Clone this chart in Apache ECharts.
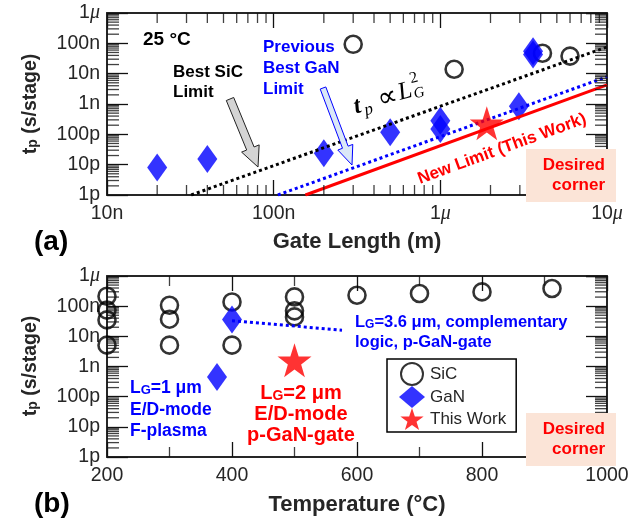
<!DOCTYPE html>
<html><head><meta charset="utf-8">
<script src="https://cdn.jsdelivr.net/npm/echarts@6/dist/echarts.min.js"></script>
<style>html,body{margin:0;padding:0;background:#fff}#c{width:637px;height:520px}</style>
</head><body><div id="c"></div>
<script>
// ---------- data (a): gate length (m) vs tp (s/stage) ----------
const xTickLabelsA = ['10n', '100n', '1{m|μ}', '10{m|μ}'];
const yTickLabels = ['1p', '10p', '100p', '1n', '10n', '100n', '1{m|μ}'];
const sicA = [[3.0e-7, 93e-9], [1.21e-6, 14e-9], [4.1e-6, 47e-9], [6.0e-6, 38e-9]];
const ganA = [[2.0e-8, 8e-12], [4.0e-8, 15.5e-12], [2.0e-7, 24e-12], [5.0e-7, 117e-12],
              [1.0e-6, 280e-12], [1.0e-6, 150e-12], [2.96e-6, 840e-12], [3.6e-6, 55e-9], [3.6e-6, 43e-9]];
const starA = [[1.9e-6, 230e-12]];
const sicLimitA = [[3.2e-8, 1e-12], [1e-5, 76e-9]];
const ganLimitA = [[1.06e-7, 1e-12], [1e-5, 7.9e-9]];
const newLimitA = [[1.55e-7, 1e-12], [1e-5, 4.3e-9]];
// ---------- data (b): temperature (°C) vs tp ----------
const xMinorB = [300, 500, 700, 900];
const sicB = [[200, 214e-9], [200, 74e-9], [200, 35e-9], [200, 5.1e-9],
              [300, 107e-9], [300, 37e-9], [300, 5.1e-9],
              [400, 138e-9], [400, 5.1e-9],
              [500, 203e-9], [500, 70e-9], [500, 44e-9],
              [600, 230e-9], [700, 263e-9], [800, 297e-9], [912, 385e-9]];
const ganB = [[376, 450e-12], [400, 36e-9]];
const starB = [[500, 1.6e-9]];
const ganTrendB = [[400, 33e-9], [576, 16e-9]];
const legendNames = ['SiC', 'GaN', 'This Work'];

const minorMult = [2, 3, 4, 5, 6, 7, 8, 9];
function minorList(e0, e1) {
  const out = [];
  for (let e = e0; e < e1; e++) for (const k of minorMult) out.push(k * Math.pow(10, e));
  return out;
}

const AX = '#262626';
const TK = '#111111';
const FONT = 'Liberation Sans, Arial, sans-serif';
const STAR = 'path://M50,0 L61.8,35.1 L98.1,35.1 L68.8,56.7 L79.4,91 L50,70 L20.6,91 L31.2,56.7 L1.9,35.1 L38.2,35.1 Z';
const BLUE = '#0000ff', RED = '#ff0000';

const labelRich = { m: { fontFamily: 'Liberation Serif, serif', fontStyle: 'italic', fontSize: 20, color: AX } };
function logLabel(arr, e0) {
  return v => arr[Math.round(Math.log10(v)) - e0];
}
function logAxisX(gi, pos, show) {
  return {
    type: 'log', logBase: 10, gridIndex: gi, position: pos, min: 1e-8, max: 1e-5, splitNumber: 3,
    axisLine: { show: true, lineStyle: { color: AX, width: 2 } },
    axisTick: { show: true, inside: true, length: 15, lineStyle: { color: TK, width: 1.3 } },
    axisLabel: { show: show, margin: 9, fontSize: 19.5, color: AX, fontFamily: FONT,
      formatter: logLabel(xTickLabelsA, -8), rich: labelRich },
    splitLine: { show: false }
  };
}
function logAxisY(gi, pos, show) {
  return {
    type: 'log', logBase: 10, gridIndex: gi, position: pos, min: 1e-12, max: 1e-6, splitNumber: 6,
    axisLine: { show: true, lineStyle: { color: AX, width: 2 } },
    axisTick: { show: true, inside: true, length: 21, lineStyle: { color: TK, width: 1.3 } },
    axisLabel: { show: show, margin: 7, fontSize: 19.5, color: AX, fontFamily: FONT,
      formatter: logLabel(yTickLabels, -12), rich: labelRich },
    splitLine: { show: false }
  };
}
function linAxisX(gi, pos, show) {
  return {
    type: 'value', gridIndex: gi, position: pos, min: 200, max: 1000, interval: 200,
    axisLine: { show: true, lineStyle: { color: AX, width: 2 } },
    axisTick: { show: true, inside: true, length: 15, lineStyle: { color: TK, width: 1.3 } },
    axisLabel: { show: show, margin: 9, fontSize: 19.5, color: AX, fontFamily: FONT, formatter: v => String(v) },
    splitLine: { show: false }
  };
}

// minor ticks: thin rect symbols placed through the axis scales
let tickId = 0;
function tickSeries(xi, yi, data, size, offset) {
  return { name: 'tick' + (tickId++), type: 'scatter', xAxisIndex: xi, yAxisIndex: yi, data, symbol: 'rect',
    symbolSize: size, symbolOffset: offset, itemStyle: { color: TK }, clip: false, z: 7 };
}
function yMinor(xi, yi, xMin, xMax, vals, len) {
  return [
    tickSeries(xi, yi, vals.map(v => [xMin, v]), [len, 1.3], [len / 2, 0]),
    tickSeries(xi, yi, vals.map(v => [xMax, v]), [len, 1.3], [-len / 2, 0])
  ];
}
function xMinor(xi, yi, yMin, yMax, vals, len) {
  return [
    tickSeries(xi, yi, vals.map(v => [v, yMin]), [1.3, len], [0, -len / 2]),
    tickSeries(xi, yi, vals.map(v => [v, yMax]), [1.3, len], [0, len / 2])
  ];
}

const circleStyle = { color: 'rgba(0,0,0,0)', borderColor: '#000', borderWidth: 2.6 };
function sicSeries(xi, yi, data) {
  return { name: 'SiC', type: 'scatter', xAxisIndex: xi, yAxisIndex: yi, data, symbol: 'circle',
    symbolSize: 17, itemStyle: circleStyle, clip: false, z: 3 };
}
function ganSeries(xi, yi, data) {
  return { name: 'GaN', type: 'scatter', xAxisIndex: xi, yAxisIndex: yi, data, symbol: 'diamond',
    symbolSize: [20, 28], itemStyle: { color: BLUE }, clip: false, z: 4 };
}
function starSeries(xi, yi, data) {
  return { name: 'This Work', type: 'scatter', xAxisIndex: xi, yAxisIndex: yi, data, symbol: STAR,
    symbolSize: 34, itemStyle: { color: RED }, clip: false, z: 6 };
}
function lineSeries(name, xi, yi, data, color, type) {
  return { name, type: 'line', xAxisIndex: xi, yAxisIndex: yi, data, symbol: 'none', z: 5, silent: true,
    lineStyle: { color, width: 3, type, cap: 'butt' } };
}

// ---------- annotations ----------
function txt(x, y, text, o) {
  o = o || {};
  return { type: 'text', x, y, z: 110, rotation: o.rot || 0, silent: true,
    style: { text, fill: o.color || '#000', font: (o.weight || 'bold') + ' ' + (o.size || 17) + 'px ' + (o.family || FONT),
      align: o.align || 'left', verticalAlign: o.va || 'middle', rich: o.rich } };
}
function subRich(size, color) {
  return {
    b: { fontSize: size, fontWeight: 'bold', fontFamily: FONT, fill: color, color: color, lineHeight: size, verticalAlign: 'top' },
    s: { fontSize: Math.round(size * 0.72), fontWeight: 'bold', fontFamily: FONT, fill: color, color: color, lineHeight: Math.round(size * 0.72), verticalAlign: 'bottom', padding: [Math.round(size * 0.55), 0, 0, 0] }
  };
}
function arrow(tail, tip, shaftW, headW, headL, fill, stroke) {
  const dx = tip[0] - tail[0], dy = tip[1] - tail[1], L = Math.hypot(dx, dy);
  const ux = dx / L, uy = dy / L, nx = -uy, ny = ux;
  const bx = tip[0] - ux * headL, by = tip[1] - uy * headL;
  const p = [
    [tail[0] + nx * shaftW / 2, tail[1] + ny * shaftW / 2],
    [bx + nx * shaftW / 2, by + ny * shaftW / 2],
    [bx + nx * headW / 2, by + ny * headW / 2],
    tip,
    [bx - nx * headW / 2, by - ny * headW / 2],
    [bx - nx * shaftW / 2, by - ny * shaftW / 2],
    [tail[0] - nx * shaftW / 2, tail[1] - ny * shaftW / 2]
  ];
  return { type: 'polygon', z: 105, silent: true, shape: { points: p }, style: { fill, stroke, lineWidth: 1 } };
}

const graphics = [
  txt(30, 104, '{b|t}{s|p}{b| (s/stage)}', { rot: Math.PI / 2, align: 'center', color: AX, rich: subRich(19.5, AX) }),
  txt(30, 366, '{b|t}{s|p}{b| (s/stage)}', { rot: Math.PI / 2, align: 'center', color: AX, rich: subRich(19.5, AX) }),
  txt(357, 242, 'Gate Length (m)', { size: 22, color: AX, align: 'center' }),
  txt(357, 505, 'Temperature (°C)', { size: 22, color: AX, align: 'center' }),
  txt(34, 242, '(a)', { size: 28, color: '#000' }),
  txt(34, 504, '(b)', { size: 28, color: '#000' }),
  txt(143, 40, '25 °C', { size: 19 }),
  txt(173, 72, 'Best SiC', { size: 17 }),
  txt(173, 92, 'Limit', { size: 17 }),
  txt(263, 47, 'Previous', { size: 17, color: BLUE }),
  txt(263, 68, 'Best GaN', { size: 17, color: BLUE }),
  txt(263, 89, 'Limit', { size: 17, color: BLUE }),
  arrow([230, 99], [258, 167], 8, 19, 20, '#d4d4d4', '#222'),
  arrow([323, 88], [352, 165], 6, 16, 19, '#dbe8f7', BLUE),
  txt(502, 149, 'New Limit (This Work)', { size: 17, color: RED, align: 'center', rot: 20 * Math.PI / 180 }),
  { type: 'group', x: 390, y: 98, rotation: 15 * Math.PI / 180, z: 110, silent: true, children: [
    { type: 'text', x: -37, y: 0, style: { text: 't', font: 'italic bold 24px Liberation Serif, serif', fill: '#000', verticalAlign: 'middle' } },
    { type: 'text', x: -28, y: 6, style: { text: 'p', font: 'italic 17px Liberation Serif, serif', fill: '#000', verticalAlign: 'middle' } },
    { type: 'text', x: -12, y: 0, style: { text: '∝', font: '28px Liberation Serif, serif', fill: '#000', verticalAlign: 'middle' } },
    { type: 'text', x: 9, y: -2, style: { text: 'L', font: 'italic 25px Liberation Serif, serif', fill: '#000', verticalAlign: 'middle' } },
    { type: 'text', x: 24, y: -13, style: { text: '2', font: '16px Liberation Serif, serif', fill: '#000', verticalAlign: 'middle' } },
    { type: 'text', x: 24, y: 3, style: { text: 'G', font: 'italic 15px Liberation Serif, serif', fill: '#000', verticalAlign: 'middle' } }
  ] },
  { type: 'rect', z: 100, silent: true, shape: { x: 526, y: 149, width: 90, height: 53 }, style: { fill: '#fbe4d7' } },
  txt(605, 165, 'Desired', { size: 17, color: RED, align: 'right' }),
  txt(605, 185, 'corner', { size: 17, color: RED, align: 'right' }),
  txt(130, 388, '{b|L}{s|G}{b|=1 μm}', { color: BLUE, rich: subRich(17.5, BLUE) }),
  txt(130, 410, 'E/D-mode', { size: 17.5, color: BLUE }),
  txt(130, 431, 'F-plasma', { size: 17.5, color: BLUE }),
  txt(301, 393, '{b|L}{s|G}{b|=2 μm}', { align: 'center', color: RED, rich: subRich(20, RED) }),
  txt(301, 414, 'E/D-mode', { size: 20, color: RED, align: 'center' }),
  txt(301, 435, 'p-GaN-gate', { size: 20, color: RED, align: 'center' }),
  txt(355, 322, '{b|L}{s|G}{b|=3.6 μm, complementary}', { color: BLUE, rich: subRich(16.5, BLUE) }),
  txt(355, 342, 'logic, p-GaN-gate', { size: 16.5, color: BLUE }),
  { type: 'rect', z: 100, silent: true, shape: { x: 526, y: 413, width: 90, height: 53 }, style: { fill: '#fbe4d7' } },
  txt(605, 429, 'Desired', { size: 17, color: RED, align: 'right' }),
  txt(605, 449, 'corner', { size: 17, color: RED, align: 'right' })
];

const mainSeries = [
  lineSeries('Best SiC Limit', 0, 0, sicLimitA, '#000', [3, 3]),
  lineSeries('Previous Best GaN Limit', 0, 0, ganLimitA, BLUE, [3, 3]),
  lineSeries('New Limit', 0, 0, newLimitA, RED, 'solid'),
  lineSeries('GaN trend', 2, 2, ganTrendB, BLUE, [3, 3]),
  sicSeries(0, 0, sicA), ganSeries(0, 0, ganA), starSeries(0, 0, starA),
  sicSeries(2, 2, sicB), ganSeries(2, 2, ganB), starSeries(2, 2, starB)
];
const tickSeriesList = [].concat(
  yMinor(0, 0, 1e-8, 1e-5, minorList(-12, -6), 12),
  xMinor(0, 0, 1e-12, 1e-6, minorList(-8, -5), 10),
  yMinor(2, 2, 200, 1000, minorList(-12, -6), 12),
  xMinor(2, 2, 1e-12, 1e-6, xMinorB, 10)
);

const option = {
  animation: false,
  grid: [
    { left: 107, top: 13, width: 500, height: 182 },
    { left: 107, top: 276, width: 500, height: 181 }
  ],
  xAxis: [logAxisX(0, 'bottom', true), logAxisX(0, 'top', false), linAxisX(1, 'bottom', true), linAxisX(1, 'top', false)],
  yAxis: [logAxisY(0, 'left', true), logAxisY(0, 'right', false), logAxisY(1, 'left', true), logAxisY(1, 'right', false)],
  legend: {
    data: legendNames, orient: 'vertical', left: 387, top: 359, z: 20,
    backgroundColor: '#fff', borderColor: '#000', borderWidth: 1.5, borderRadius: 0,
    padding: [3, 10, 2, 12], itemGap: 0, itemWidth: 26, itemHeight: 22, selectedMode: false,
    textStyle: { fontSize: 17, color: AX, fontFamily: FONT }
  },
  series: mainSeries.concat(tickSeriesList),
  graphic: graphics
};
const chart = echarts.init(document.getElementById('c'), null, { renderer: 'canvas' });
chart.setOption(option);
</script></body></html>
